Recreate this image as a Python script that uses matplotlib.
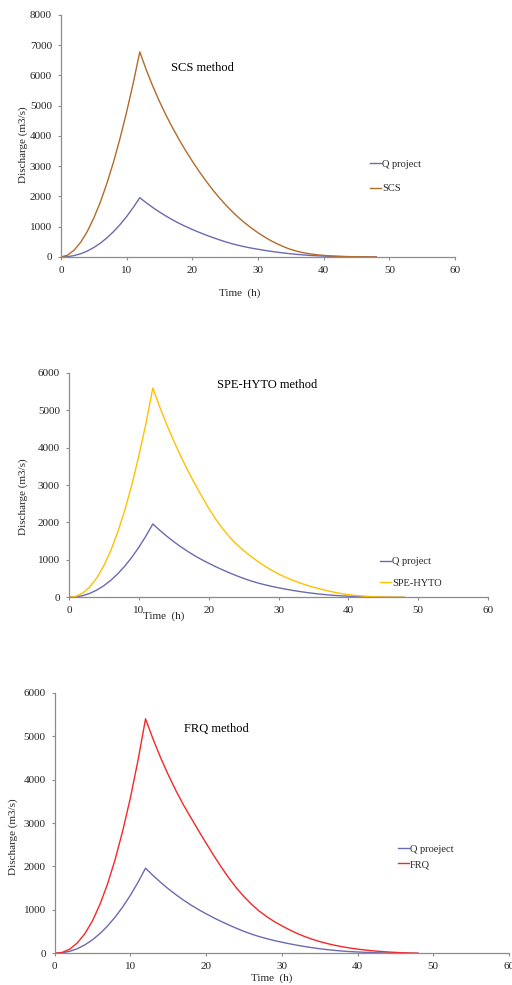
import numpy as np
import matplotlib
matplotlib.use("Agg")
import matplotlib.pyplot as plt

plt.rcParams['font.family'] = ['Liberation Serif', 'DejaVu Serif']

# hourly time steps
hours = np.arange(0, 49)

q_project = [0, 11, 46, 107, 195, 312, 457, 632, 837, 1071, 1337, 1633, 1960,
             1790, 1632, 1486, 1351, 1226, 1111, 1006, 910, 818, 732, 652, 576,
             505, 441, 385, 337, 293, 255, 219, 186, 156, 129, 105, 84, 66, 51,
             39, 30, 22, 15, 10, 6, 3, 1, 0, 0]

scs = [0, 60, 225, 485, 840, 1285, 1815, 2435, 3135, 3925, 4795, 5745, 6780,
       6180, 5635, 5140, 4685, 4265, 3875, 3510, 3165, 2840, 2535, 2250, 1985,
       1740, 1515, 1310, 1125, 955, 800, 660, 535, 425, 330, 248, 185, 137, 100,
       72, 52, 37, 26, 18, 12, 7, 4, 2, 0]

spe_hyto = [0, 27, 118, 284, 525, 850, 1258, 1755, 2336, 3010, 3780, 4632, 5590,
            5080, 4610, 4175, 3770, 3390, 3035, 2700, 2380, 2090, 1835, 1610, 1415,
            1250, 1100, 962, 837, 725, 625, 537, 458, 388, 325, 270, 220, 175, 135,
            100, 70, 50, 34, 22, 13, 7, 3, 1, 0]

frq = [0, 20, 96, 240, 455, 750, 1135, 1605, 2170, 2830, 3580, 4440, 5400,
       4930, 4500, 4110, 3750, 3420, 3120, 2825, 2535, 2255, 1985, 1735, 1507,
       1304, 1127, 975, 844, 731, 633, 541, 459, 387, 324, 270, 224, 184, 150,
       121, 96, 75, 57, 42, 30, 20, 12, 6, 0]

x_ticks = [0, 10, 20, 30, 40, 50, 60]

Q_COLOR = '#6b6bb0'
AX_COLOR = '#8c8c8c'
TXT_COLOR = '#262626'

fig = plt.figure(figsize=(5.12, 9.85), dpi=100)

panels = [
    # rect, series, label, color, ymax, title pos, title, q label, legend anchor,
    # label spacing, ylabel pos, xlabel pos
    ([0.119, 0.7391, 0.770, 0.2457], scs, 'SCS', '#b36b2a', 8000, (21.5, 6250), 'SCS method',
     'Q project', (0.7227, 0.8208), 1.45, (-0.096, 0.463), (0.454, -0.15)),
    ([0.1348, 0.3936, 0.8184, 0.228], spe_hyto, 'SPE-HYTO', '#ffc000', 6000, (28.4, 5672),
     'SPE-HYTO method', 'Q project', (0.742, 0.4188), 1.2, (-0.109, 0.448), (0.225, -0.086)),
    ([0.1068, 0.0322, 0.8873, 0.2645], frq, 'FRQ', '#f52727', 6000, (21.4, 5157), 'FRQ method',
     'Q proeject', (0.777, 0.1303), 0.6, (-0.091, 0.447), (0.477, -0.094)),
]

for rect, series, name, color, ymax, tpos, title, qlabel, lpos, lspace, ylpos, xlpos in panels:
    ax = fig.add_axes(rect)
    ax.plot(hours, q_project, color=Q_COLOR, lw=1.0, label=qlabel)
    ax.plot(hours, series, color=color, lw=1.0, label=name)

    ax.set_xlim(0, 60)
    ax.set_ylim(0, ymax)
    ax.set_xticks(x_ticks)
    ax.set_yticks(np.arange(0, ymax + 1, 1000))

    for side in ['top', 'right']:
        ax.spines[side].set_visible(False)
    for side in ['left', 'bottom']:
        ax.spines[side].set_color(AX_COLOR)
        ax.spines[side].set_linewidth(0.9)
    ax.tick_params(colors=AX_COLOR, labelcolor=TXT_COLOR, labelsize=8,
                   length=2.5, width=0.8, pad=4)

    ax.text(tpos[0], tpos[1], title, ha='center', va='center', fontsize=9, color='black')

    ax.set_ylabel('Discharge (m3/s)', fontsize=8, color=TXT_COLOR, ha='center', va='center')
    ax.yaxis.set_label_coords(*ylpos)
    ax.set_xlabel('Time  (h)', fontsize=8, color=TXT_COLOR, ha='center', va='center')
    ax.xaxis.set_label_coords(*xlpos)

    leg = ax.legend(loc='center left', bbox_to_anchor=lpos, bbox_transform=fig.transFigure,
                    frameon=False, fontsize=7.5, handlelength=1.1, handletextpad=0.05,
                    labelspacing=lspace, borderpad=0, borderaxespad=0)
    for t in leg.get_texts():
        t.set_color(TXT_COLOR)

fig.savefig('out.png', dpi=100)
